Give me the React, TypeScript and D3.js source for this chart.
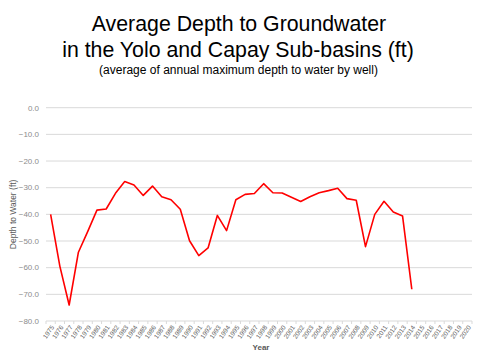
import * as d3 from "d3";
import React, { useEffect, useRef } from "react";

// years on the x axis (category axis, 1975-2020)
const years: string[] = d3.range(1975, 2021).map(String);

// average annual maximum depth to water (ft), 1975-2014
const depthYears: string[] = d3.range(1975, 2015).map(String);
const depthValues: number[] = [
  -40.0, -59.5, -74.0, -54.2, -46.5, -38.4, -38.0, -32.1, -27.7, -29.0,
  -32.9, -29.4, -33.4, -34.5, -38.1, -49.9, -55.5, -52.6, -40.4, -46.1,
  -34.5, -32.5, -32.2, -28.5, -31.9, -32.0, -33.6, -35.2, -33.4, -31.9,
  -31.1, -30.2, -34.1, -34.7, -52.1, -40.0, -35.1, -39.1, -40.6, -68.1,
];

const yTicks: number[] = [0, -10, -20, -30, -40, -50, -60, -70, -80];

export default function App() {
  const svgRef = useRef<SVGSVGElement>(null);

  useEffect(() => {
    const svg = d3.select(svgRef.current);
    svg.selectAll("*").remove();

    const width = 480;
    const height = 360;
    const margin = { top: 107.7, right: 8, bottom: 39, left: 46 };
    const plotWidth = width - margin.left - margin.right;
    const plotHeight = height - margin.top - margin.bottom;
    const font = "'Liberation Sans', Arial, sans-serif";

    svg.append("rect").attr("width", width).attr("height", height).attr("fill", "#fff");

    const g = svg.append("g")
      .attr("transform", `translate(${margin.left},${margin.top})`);

    const xScale = d3.scaleBand<string>()
      .domain(years)
      .range([0, plotWidth]);

    const yScale = d3.scaleLinear()
      .domain([-80, 0])
      .range([plotHeight, 0]);

    // Grid lines
    g.append("g")
      .selectAll("line")
      .data(yTicks.filter(t => t !== -80))
      .join("line")
      .attr("x1", 0)
      .attr("x2", plotWidth)
      .attr("y1", d => yScale(d))
      .attr("y2", d => yScale(d))
      .attr("stroke", "#d9d9d9")
      .attr("stroke-width", 1);

    // Y axis labels
    g.append("g")
      .selectAll("text")
      .data(yTicks)
      .join("text")
      .attr("x", -7)
      .attr("y", d => yScale(d))
      .attr("dy", "0.35em")
      .attr("text-anchor", "end")
      .style("font-family", font)
      .style("font-size", "8px")
      .attr("fill", "#8c8c8c")
      .text(d => d3.format(".1f")(d));

    // X axis
    const xAxis = g.append("g")
      .attr("transform", `translate(0,${plotHeight})`);

    xAxis.append("line")
      .attr("x1", 0)
      .attr("x2", plotWidth)
      .attr("stroke", "#d9d9d9");

    xAxis.selectAll(".tick")
      .data(years.concat(["end"]))
      .join("line")
      .attr("class", "tick")
      .attr("x1", (d, i) => i * xScale.step())
      .attr("x2", (d, i) => i * xScale.step())
      .attr("y1", 0)
      .attr("y2", 3)
      .attr("stroke", "#d9d9d9");

    xAxis.selectAll(".lbl")
      .data(years)
      .join("text")
      .attr("class", "lbl")
      .attr("transform", d => `translate(${(xScale(d) ?? 0) + xScale.bandwidth() / 2 + 2},5) rotate(-55)`)
      .attr("text-anchor", "end")
      .attr("dy", "0.35em")
      .style("font-family", font)
      .style("font-size", "6.5px")
      .attr("fill", "#595959")
      .text(d => d);

    // Axis titles
    svg.append("text")
      .attr("x", margin.left + plotWidth / 2 + 2)
      .attr("y", 350)
      .attr("text-anchor", "middle")
      .style("font-family", font)
      .style("font-size", "8px")
      .style("font-weight", "bold")
      .attr("fill", "#595959")
      .text("Year");

    svg.append("text")
      .attr("transform", `translate(16,${margin.top + plotHeight / 2}) rotate(-90)`)
      .attr("text-anchor", "middle")
      .style("font-family", font)
      .style("font-size", "8.5px")
      .attr("fill", "#595959")
      .text("Depth to Water (ft)");

    // Title
    const title = svg.append("g").attr("text-anchor", "middle").style("font-family", font);
    title.append("text")
      .attr("x", 239)
      .attr("y", 31)
      .style("font-size", "21.3px")
      .attr("fill", "#000")
      .text("Average Depth to Groundwater");
    title.append("text")
      .attr("x", 238)
      .attr("y", 57)
      .style("font-size", "21.3px")
      .attr("fill", "#000")
      .text("in the Yolo and Capay Sub-basins (ft)");
    title.append("text")
      .attr("x", 238.5)
      .attr("y", 74)
      .style("font-size", "12px")
      .attr("fill", "#000")
      .text("(average of annual maximum depth to water by well)");

    // Line
    const line = d3.line<number>()
      .x((d, i) => (xScale(depthYears[i]) ?? 0) + xScale.bandwidth() / 2)
      .y(d => yScale(d));

    g.append("path")
      .datum(depthValues)
      .attr("fill", "none")
      .attr("stroke", "#ff0000")
      .attr("stroke-width", 1.6)
      .attr("stroke-linejoin", "round")
      .attr("d", line);
  }, []);

  return (
    <svg ref={svgRef} width={480} height={360} style={{ position: "absolute", left: 0, top: 0 }}></svg>
  );
}
